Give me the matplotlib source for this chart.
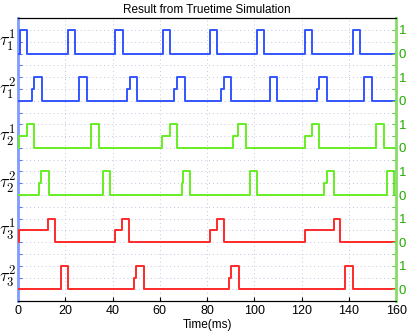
import matplotlib
matplotlib.use('Agg')
from matplotlib import pyplot as plt
import matplotlib.transforms as mtransforms
import numpy as np

plt.rcParams['font.family'] = ['Liberation Sans', 'DejaVu Sans']
plt.rcParams['mathtext.fontset'] = 'cm'

# task labels (top to bottom) and colors
task_labels = [r'$\tau_1^1$', r'$\tau_1^2$', r'$\tau_2^1$', r'$\tau_2^2$', r'$\tau_3^1$', r'$\tau_3^2$']
task_colors = ['#3355ff', '#3355ff', '#66ee22', '#66ee22', '#ff2a2a', '#ff2a2a']

# schedule signals: change times (ms) and levels (0 idle, 0.5 waiting, 1 running)
t11_t = [0, 1.0, 4.0, 21.0, 24.0, 41.0, 44.3, 61.3, 64.2, 81.1, 84.3, 101.3, 104.1, 121.5, 124.4, 141.6, 144.7]
t11_v = [0, 1, 0, 1, 0, 1, 0, 1, 0, 1, 0, 1, 0, 1, 0, 1, 0]

t12_t = [0, 5.8, 6.9, 10.0, 25.9, 29.0, 46.1, 47.3, 50.4, 66.2, 67.4, 70.5, 86.0, 87.2, 90.3,
         106.5, 109.5, 126.4, 127.5, 130.6, 146.6, 149.7]
t12_v = [0, 0.5, 1, 0, 1, 0, 0.5, 1, 0, 0.5, 1, 0, 0.5, 1, 0, 1, 0, 0.5, 1, 0, 1, 0]

t21_t = [0, 0.6, 3.7, 6.9, 31.0, 34.2, 61.0, 64.2, 67.4, 91.1, 93.2, 96.3, 121.5, 124.4, 127.5, 151.7, 154.8]
t21_v = [0, 0.5, 1, 0, 1, 0, 0.5, 1, 0, 0.5, 1, 0, 0.5, 1, 0, 1, 0]

t22_t = [0, 8.9, 9.9, 13.2, 35.8, 39.0, 69.2, 69.9, 73.0, 98.2, 101.3, 129.6, 130.6, 133.6, 156.2, 159.3]
t22_v = [0, 0.5, 1, 0, 1, 0, 0.5, 1, 0, 1, 0, 0.5, 1, 0, 1, 0]

t31_t = [0, 0.6, 12.9, 15.8, 40.9, 44.0, 47.1, 81.1, 84.3, 87.2, 121.5, 133.6, 136.4]
t31_v = [0, 0.5, 1, 0, 0.5, 1, 0, 0.5, 1, 0, 0.5, 1, 0]

t32_t = [0, 18.0, 21.1, 49.0, 49.9, 53.2, 89.3, 90.3, 93.5, 138.5, 141.6]
t32_v = [0, 1, 0, 0.5, 1, 0, 0.5, 1, 0, 1, 0]

signals = [(t11_t, t11_v), (t12_t, t12_v), (t21_t, t21_v),
           (t22_t, t22_v), (t31_t, t31_v), (t32_t, t32_v)]

x_ticks = [0, 20, 40, 60, 80, 100, 120, 140, 160]
t_end = 160

fig = plt.figure(figsize=(4.07, 3.31), dpi=100)
ax = fig.add_axes([0.0442, 0.0900, 0.9290, 0.8550])

n = len(signals)
for i, (tt, vv) in enumerate(signals):
    offset = 2 * (n - 1 - i)
    tt = list(tt) + [t_end]
    vv = list(vv) + [vv[-1]]
    ax.step(tt, np.array(vv) + offset, where='post', color=task_colors[i], lw=1.4, zorder=3)

ax.set_xlim(0, 160)
ax.set_ylim(-0.5, 2 * n - 0.5)
ax.set_xticks(x_ticks)
yt = np.arange(-0.5, 2 * n - 0.5 + 0.01, 0.5)
ax.set_yticks(yt)
ax.tick_params(axis='y', which='both', left=True, labelleft=False, direction='in',
               color='#5577ff', length=3)
ax.tick_params(axis='x', direction='in', length=3, labelsize=9, pad=3)
ax.grid(True, linestyle=(0, (1, 3)), color='#c4c4e0', lw=0.7)
ax.spines['left'].set_color('#7f9cff')
ax.spines['left'].set_linewidth(2)
ax.spines['right'].set_visible(False)

# right axis with 0/1 labels
ax2 = ax.twinx()
ax2.set_ylim(ax.get_ylim())
ax2.set_yticks(yt)
labels = []
for y in yt:
    r = y % 2
    labels.append('0' if abs(r) < 1e-9 else ('1' if abs(r - 1) < 1e-9 else ''))
ax2.set_yticklabels(labels)
ax2.tick_params(axis='y', direction='in', color='#66cc44', length=3, labelcolor='#22aa00',
                labelsize=9.5, pad=2)
ax2.spines['right'].set_color('#88dd66')
ax2.spines['right'].set_linewidth(2)
ax2.spines['left'].set_visible(False)

trans = mtransforms.blended_transform_factory(ax.transAxes, ax.transData)
for i, lab in enumerate(task_labels):
    offset = 2 * (n - 1 - i)
    ax.text(-0.006, offset + 0.5, lab, transform=trans, ha='right', va='center', fontsize=13)

ax.set_xlabel('Time(ms)', fontsize=8.5, labelpad=1)
ax.set_title('Result from Truetime Simulation', fontsize=8.5, pad=4)

plt.savefig('out.png', dpi=100)
